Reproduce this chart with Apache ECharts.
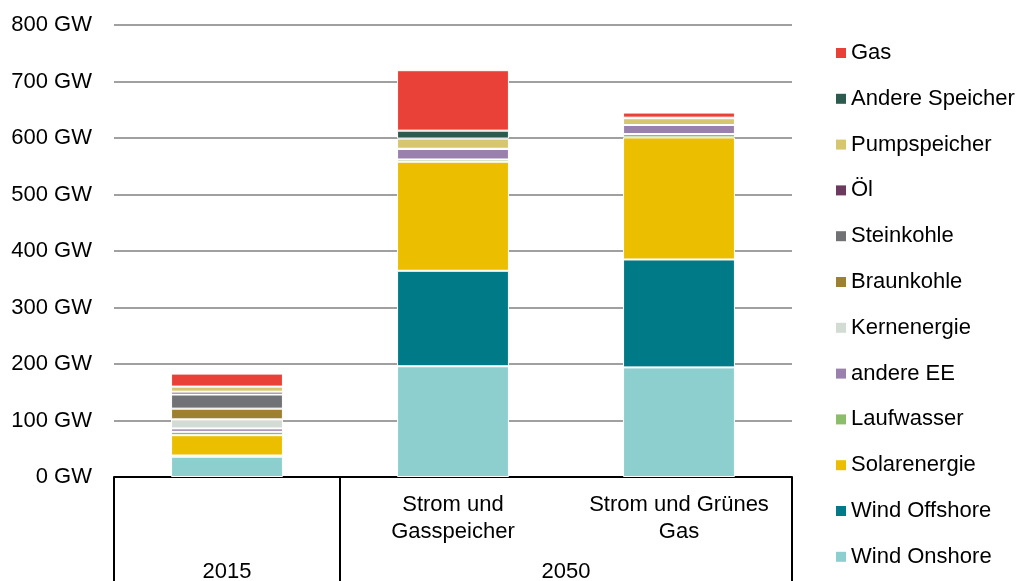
<!DOCTYPE html>
<html>
<head>
<meta charset="utf-8">
<script src="https://cdn.jsdelivr.net/npm/echarts@6/dist/echarts.min.js"></script>
<style>
html, body { margin: 0; padding: 0; background: #fff; }
#main { width: 1027px; height: 581px; }
</style>
</head>
<body>
<div id="main"></div>
<script>
// Szenarien (erste Ebene der x-Achse)
var categories = ['', 'Strom und\nGasspeicher', 'Strom und Grünes\nGas'];
// zweite Ebene: Jahr und wie viele Balken es umfasst
var groupLabels = ['2015', '2050'];
var groupSpans = [1, 2];

var yTicks = [0, 100, 200, 300, 400, 500, 600, 700, 800];

// Leistung in GW, von unten nach oben gestapelt
var windOnshore    = [36, 196, 194];
var windOffshore   = [2, 169, 191];
var solarenergie   = [36, 193, 216];
var laufwasser     = [6, 4, 6];
var andereEE       = [6, 19, 16];
var kernenergie    = [16, 0, 0];
var braunkohle     = [19, 0, 0];
var steinkohle     = [25, 0, 0];
var oel            = [5, 0, 0];
var pumpspeicher   = [9, 18, 12];
var andereSpeicher = [0, 14, 1];
var gas            = [23, 107, 9];

var seriesNames = ['Wind Onshore', 'Wind Offshore', 'Solarenergie', 'Laufwasser', 'andere EE',
	'Kernenergie', 'Braunkohle', 'Steinkohle', 'Öl', 'Pumpspeicher', 'Andere Speicher', 'Gas'];
var seriesData = [windOnshore, windOffshore, solarenergie, laufwasser, andereEE,
	kernenergie, braunkohle, steinkohle, oel, pumpspeicher, andereSpeicher, gas];
var colors = ['#8dcfcf', '#007a87', '#ebbe00', '#8cbd6a', '#9a80ad',
	'#d2dcd4', '#9e8031', '#717275', '#6b3a5e', '#d5c66f', '#2d5a4e', '#e94137'];

var font = "'Liberation Sans', Arial, sans-serif";

// Grenzen und Mitten der Jahresgruppen
var groupBounds = [0];
var groupCenters = [];
var acc = 0;
for (var i = 0; i < groupSpans.length; i++) {
	groupCenters.push(acc + groupSpans[i] / 2);
	acc += groupSpans[i];
	groupBounds.push(acc);
}

var series = [];
for (var i = 0; i < seriesNames.length; i++) {
	series.push({
		name: seriesNames[i],
		type: 'bar',
		stack: 'total',
		xAxisIndex: 0,
		barWidth: '49.5%',
		itemStyle: { color: colors[i], borderColor: '#fff', borderWidth: 1 },
		data: seriesData[i]
	});
}

var myChart = echarts.init(document.getElementById('main'));
var option = {
	animation: false,
	textStyle: { fontFamily: font },
	grid: { left: 114, right: 235, top: 25, bottom: 104, containLabel: false, outerBoundsMode: 'none' },
	legend: {
		data: seriesNames.slice().reverse(),
		orient: 'vertical',
		left: 836,
		top: 42,
		padding: 0,
		itemWidth: 10,
		itemHeight: 10,
		itemGap: 23.8,
		icon: 'rect',
		itemStyle: { borderWidth: 0 },
		textStyle: { fontFamily: font, fontSize: 22, color: '#000', lineHeight: 22 }
	},
	xAxis: [
		{
			type: 'category',
			data: categories,
			position: 'bottom',
			axisLine: { lineStyle: { color: '#000', width: 2 } },
			axisTick: { length: 66, lineStyle: { color: '#000', width: 2 } },
			axisLabel: {
				interval: 0, margin: 14, fontSize: 22, color: '#000',
				lineHeight: 27, fontFamily: font
			},
			splitLine: { show: false }
		},
		{
			type: 'value',
			position: 'bottom',
			min: 0,
			max: groupBounds[groupBounds.length - 1],
			axisLine: { show: false },
			axisTick: { show: true, customValues: groupBounds, length: 104, lineStyle: { color: '#000', width: 2 } },
			axisLabel: {
				show: true, customValues: groupCenters, margin: 81, fontSize: 22, color: '#000',
				lineHeight: 27, fontFamily: font,
				formatter: function (v) {
					for (var k = 0; k < groupCenters.length; k++) {
						if (Math.abs(groupCenters[k] - v) < 1e-6) return groupLabels[k];
					}
					return '';
				}
			},
			splitLine: { show: false }
		}
	],
	yAxis: {
		type: 'value',
		min: yTicks[0],
		max: yTicks[yTicks.length - 1],
		interval: yTicks[1] - yTicks[0],
		axisLine: { show: false },
		axisTick: { show: false },
		axisLabel: { formatter: '{value} GW', fontSize: 22, color: '#000', margin: 22, fontFamily: font },
		splitLine: { lineStyle: { color: '#a0a0a0', width: 2 } }
	},
	series: series
};
myChart.setOption(option);
</script>
</body>
</html>
